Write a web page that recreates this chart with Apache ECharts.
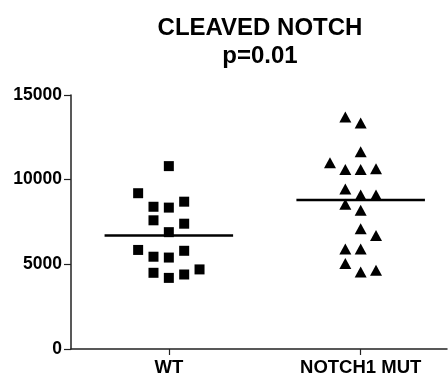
<!DOCTYPE html>
<html>
<head>
<meta charset="UTF-8">
<title>Cleaved Notch</title>
<script src="https://cdn.jsdelivr.net/npm/echarts@6/dist/echarts.min.js"></script>
<style>
  html, body { margin: 0; padding: 0; background: #fff; }
  #chart { width: 448px; height: 378px; }
</style>
</head>
<body>
<div id="chart"></div>
<script>
// groups, on a value x axis at positions 1 and 2
var groups = ['WT', 'NOTCH1 MUT'];
var groupPos = [1, 2];

// WT points: horizontal jitter (axis units) and values
var wtJitter = [0, -0.16, -0.08, 0, 0.08, -0.08, 0.08, 0, -0.16, 0.08, -0.08, 0, 0.16, 0.08, -0.08, 0];
var wtValues = [10800, 9200, 8400, 8350, 8700, 7600, 7400, 6900, 5850, 5800, 5450, 5400, 4700, 4400, 4500, 4200];

// NOTCH1 MUT points
var mutJitter = [-0.08, 0, 0, -0.16, -0.08, 0, 0.08, -0.08, 0, 0.08, -0.08, 0, 0, 0.08, -0.08, 0, -0.08, 0, 0.08];
var mutValues = [13700, 13350, 11650, 11000, 10600, 10600, 10650, 9450, 9100, 9100, 8550, 8200, 7100, 6700, 5900, 5900, 5050, 4550, 4650];

// group means (horizontal lines)
var means = [6700, 8800];
var meanHalfWidth = 0.335;

var font = '"Liberation Sans", Arial, sans-serif';

function points(pos, jitter, values) {
  return values.map(function (v, i) { return [pos + jitter[i], v]; });
}
function meanLine(pos, m) {
  return [[pos - meanHalfWidth, m], [pos + meanHalfWidth, m]];
}

var chart = echarts.init(document.getElementById('chart'));
chart.setOption({
  backgroundColor: '#fff',
  animation: false,
  title: {
    text: 'CLEAVED NOTCH\np=0.01',
    left: 255,
    top: 9,
    textAlign: 'center',
    textStyle: {
      fontFamily: font,
      fontSize: 24,
      fontWeight: 'bold',
      color: '#000',
      lineHeight: 28
    }
  },
  grid: { left: 71, right: 1, top: 95, bottom: 29 },
  xAxis: {
    type: 'value',
    min: 0.49,
    max: 2.45,
    splitLine: { show: false },
    axisLine: { lineStyle: { color: '#222', width: 1.5 } },
    axisTick: { customValues: groupPos, length: 6, lineStyle: { color: '#222', width: 1.2 } },
    axisLabel: {
      customValues: groupPos,
      margin: 9,
      fontFamily: font,
      fontSize: 18.5,
      fontWeight: 'bold',
      color: '#000',
      formatter: function (v) { return groups[groupPos.indexOf(v)] || ''; }
    }
  },
  yAxis: {
    type: 'value',
    min: 0,
    max: 15000,
    interval: 5000,
    splitLine: { show: false },
    axisLine: { show: true, lineStyle: { color: '#222', width: 1.5 } },
    axisTick: { show: true, length: 7, lineStyle: { color: '#222', width: 1.2 } },
    axisLabel: {
      margin: 9,
      fontFamily: font,
      fontSize: 17.5,
      fontWeight: 'bold',
      color: '#000',
      formatter: function (v) { return String(v); }
    }
  },
  series: [
    {
      type: 'scatter',
      symbol: 'rect',
      symbolSize: 10,
      itemStyle: { color: '#000', opacity: 1 },
      data: points(groupPos[0], wtJitter, wtValues)
    },
    {
      type: 'scatter',
      symbol: 'triangle',
      symbolSize: [12, 11],
      itemStyle: { color: '#000', opacity: 1 },
      data: points(groupPos[1], mutJitter, mutValues)
    },
    {
      type: 'line',
      symbol: 'none',
      lineStyle: { color: '#000', width: 2.5 },
      data: meanLine(groupPos[0], means[0])
    },
    {
      type: 'line',
      symbol: 'none',
      lineStyle: { color: '#000', width: 2.5 },
      data: meanLine(groupPos[1], means[1])
    }
  ]
});
</script>
</body>
</html>
